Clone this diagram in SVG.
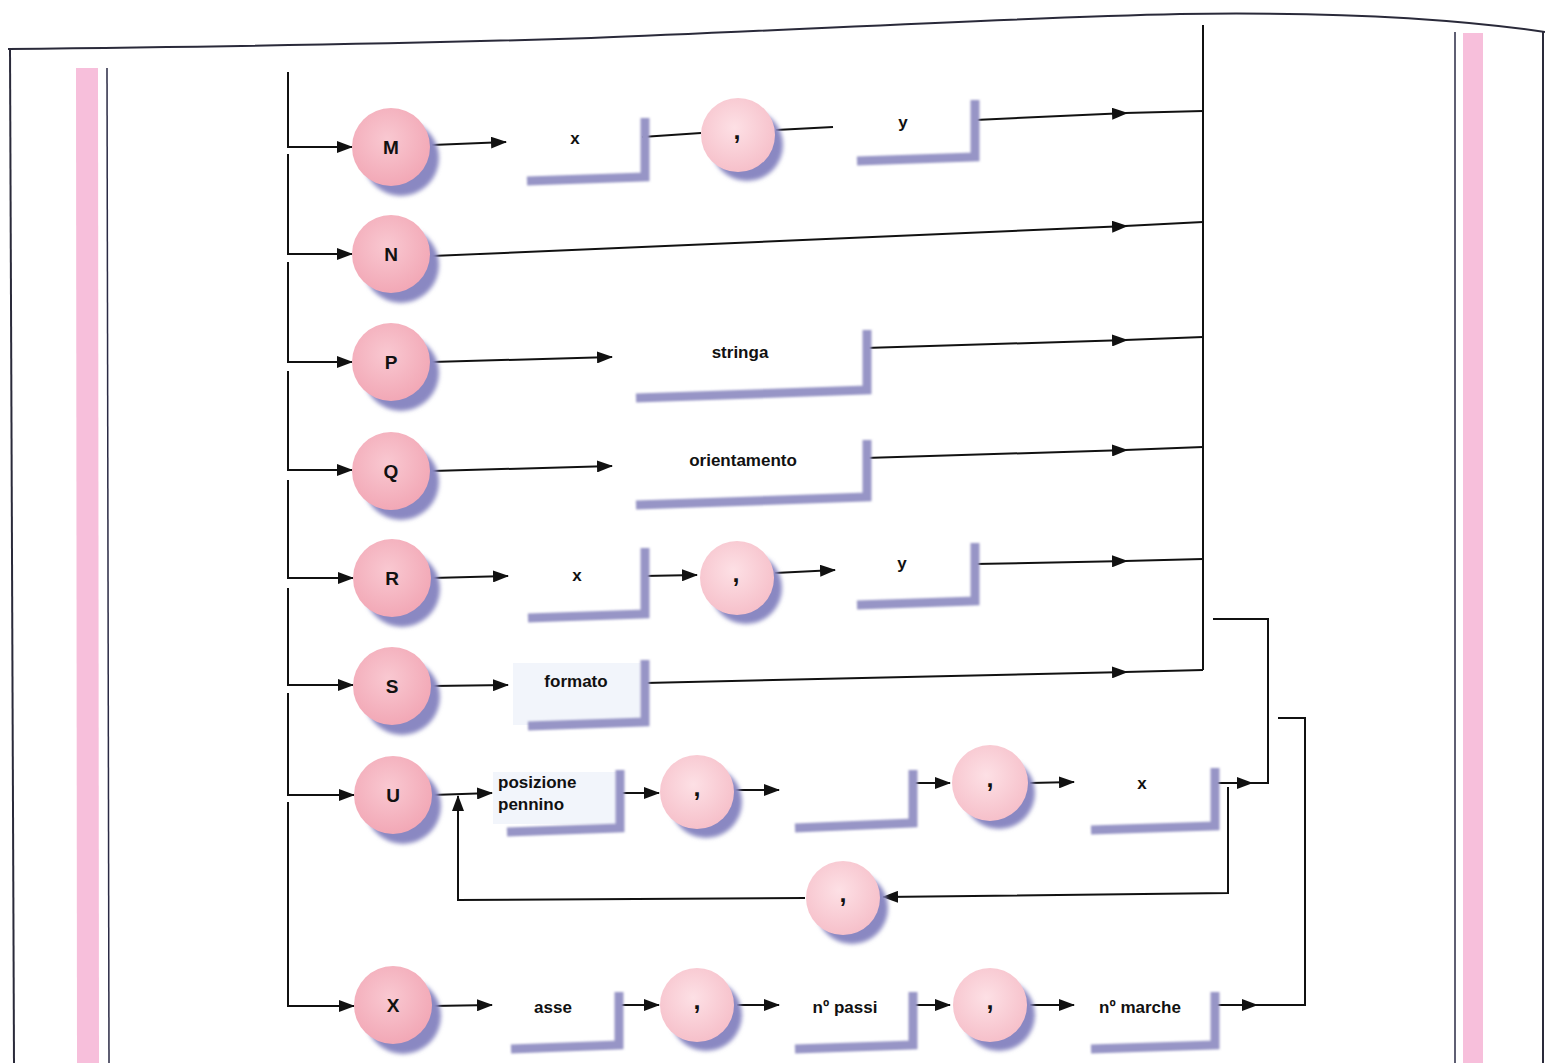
<svg xmlns="http://www.w3.org/2000/svg" width="1545" height="1063" viewBox="0 0 1545 1063">
<style>
.ln{stroke:#111;stroke-width:2;fill:none}
.ar{marker-end:url(#ah)}
.frame{stroke:#2a2a3a;stroke-width:2;fill:none}
.thin{stroke:#2a2a44;stroke-width:1.5;fill:none}
.strip{fill:#f7bfdb}
.csh{fill:#8a88c2;filter:url(#blur)}
.cl{fill:url(#pinkL)}
.cc{fill:url(#pinkC)}
.bsh{stroke:#9795c6;stroke-width:9;fill:none;filter:url(#blur1);stroke-linejoin:miter}
.t{font-family:"Liberation Sans",Arial,sans-serif;font-weight:bold;font-size:17px;fill:#111;text-anchor:middle}
.tn{font-family:"Liberation Sans",Arial,sans-serif;font-weight:bold;font-size:19px;fill:#111;text-anchor:middle}
.tl{font-family:"Liberation Sans",Arial,sans-serif;font-weight:bold;font-size:17px;fill:#111}
.cm{font-family:"Liberation Sans",Arial,sans-serif;font-weight:bold;font-size:25px;fill:#111;text-anchor:middle}
</style>
<defs>
<marker id="ah" markerUnits="userSpaceOnUse" markerWidth="16" markerHeight="12" refX="15" refY="6" orient="auto">
<path d="M0,0 L16,6 L0,12 z" fill="#111"/>
</marker>
<filter id="blur" x="-20%" y="-20%" width="140%" height="140%"><feGaussianBlur stdDeviation="2"/></filter>
<filter id="blur1" x="-20%" y="-50%" width="140%" height="200%"><feGaussianBlur stdDeviation="1.2"/></filter>
<radialGradient id="pinkL" cx="45%" cy="40%" r="60%"><stop offset="0" stop-color="#f9c8d1"/><stop offset="1" stop-color="#f2a8b6"/></radialGradient>
<radialGradient id="pinkC" cx="45%" cy="40%" r="60%"><stop offset="0" stop-color="#fde0e5"/><stop offset="1" stop-color="#f6c0ca"/></radialGradient>
</defs>

<g id="page">
<path class="frame" d="M8 49 C 200 47, 400 44, 591 38 C 800 30, 1000 18, 1180 14 C 1320 12, 1450 18, 1545 32"/>
<path class="frame" d="M10 49 L14 1063"/>
<path class="frame" d="M1543 31 L1543 1063"/>
<path class="strip" d="M76 68 L98 68 L99 1063 L77 1063 z"/>
<path class="strip" d="M1463 33 L1483 33 L1483 1063 L1463 1063 z"/>
<path class="thin" d="M107 68 L109 1063"/>
<path class="thin" d="M1455 32 L1455 1063"/>
</g>

<g id="connectors">
<path class="ln ar" d="M288 72 V147 H352"/>
<path class="ln ar" d="M288 154 V254 H352"/>
<path class="ln ar" d="M288 262 V362 H352"/>
<path class="ln ar" d="M288 371 V470 H352"/>
<path class="ln ar" d="M288 480 V578 H353"/>
<path class="ln ar" d="M288 588 V685 H353"/>
<path class="ln ar" d="M288 693 V795 H354"/>
<path class="ln ar" d="M288 802 V1006 H354"/>
<path class="ln" d="M1203 25 V670"/>
<path class="ln ar" d="M432 145 L506 142"/>
<path class="ln" d="M642 137 L701 133"/>
<path class="ln" d="M776 130 L833 127"/>
<path class="ln ar" d="M975 120 L1127 113"/>
<path class="ln" d="M1125 113 L1203 111"/>
<path class="ln ar" d="M432 256 L1127 226"/>
<path class="ln" d="M1125 226 L1203 222"/>
<path class="ln ar" d="M432 362 L612 357"/>
<path class="ln ar" d="M865 348 L1127 340"/>
<path class="ln" d="M1125 340 L1203 337"/>
<path class="ln ar" d="M432 471 L612 466"/>
<path class="ln ar" d="M865 458 L1127 450"/>
<path class="ln" d="M1125 450 L1203 447"/>
<path class="ln ar" d="M432 578 L508 576"/>
<path class="ln ar" d="M643 576 L697 575"/>
<path class="ln ar" d="M775 573 L835 570"/>
<path class="ln ar" d="M974 564 L1127 561"/>
<path class="ln" d="M1125 561 L1203 559"/>
<path class="ln ar" d="M432 686 L508 685"/>
<path class="ln ar" d="M645 683 L1127 672"/>
<path class="ln" d="M1125 672 L1203 670"/>
<path class="ln ar" d="M432 795 L492 793"/>
<path class="ln ar" d="M621 793 L659 793"/>
<path class="ln ar" d="M735 790 L779 790"/>
<path class="ln ar" d="M914 783 L950 783"/>
<path class="ln ar" d="M1030 783 L1074 782"/>
<path class="ln ar" d="M1215 783 L1252 783"/>
<path class="ln" d="M1250 783 H1268 V619 H1213"/>
<path class="ln ar" d="M1228 787 V893 L883 897"/>
<path class="ln ar" d="M805 898 L458 900 V796"/>
<path class="ln ar" d="M432 1006 L492 1005"/>
<path class="ln ar" d="M620 1005 L659 1005"/>
<path class="ln ar" d="M737 1005 L779 1005"/>
<path class="ln ar" d="M914 1005 L950 1005"/>
<path class="ln ar" d="M1030 1005 L1074 1005"/>
<path class="ln ar" d="M1215 1005 L1257 1005"/>
<path class="ln" d="M1255 1005 H1305 V718 H1278"/>
</g>

<g id="node-M"><circle class="csh" cx="401" cy="158" r="38"/><circle class="cl" cx="391" cy="147" r="39"/><text class="tn" x="391" y="154">M</text></g>
<g id="node-N"><circle class="csh" cx="401" cy="265" r="38"/><circle class="cl" cx="391" cy="254" r="39"/><text class="tn" x="391" y="261">N</text></g>
<g id="node-P"><circle class="csh" cx="401" cy="373" r="38"/><circle class="cl" cx="391" cy="362" r="39"/><text class="tn" x="391" y="369">P</text></g>
<g id="node-Q"><circle class="csh" cx="401" cy="482" r="38"/><circle class="cl" cx="391" cy="471" r="39"/><text class="tn" x="391" y="478">Q</text></g>
<g id="node-R"><circle class="csh" cx="402" cy="589" r="38"/><circle class="cl" cx="392" cy="578" r="39"/><text class="tn" x="392" y="585">R</text></g>
<g id="node-S"><circle class="csh" cx="402" cy="697" r="38"/><circle class="cl" cx="392" cy="686" r="39"/><text class="tn" x="392" y="693">S</text></g>
<g id="node-U"><circle class="csh" cx="403" cy="806" r="38"/><circle class="cl" cx="393" cy="795" r="39"/><text class="tn" x="393" y="802">U</text></g>
<g id="node-X"><circle class="csh" cx="403" cy="1016" r="38"/><circle class="cl" cx="393" cy="1005" r="39"/><text class="tn" x="393" y="1012">X</text></g>

<g id="node-comma-M"><circle class="csh" cx="747" cy="145" r="36"/><circle class="cc" cx="738" cy="135" r="37"/><text class="cm" x="737" y="139">,</text></g>
<g id="node-comma-R"><circle class="csh" cx="746" cy="588" r="36"/><circle class="cc" cx="737" cy="578" r="37"/><text class="cm" x="736" y="582">,</text></g>
<g id="node-comma-U1"><circle class="csh" cx="706" cy="802" r="36"/><circle class="cc" cx="697" cy="792" r="37"/><text class="cm" x="697" y="796">,</text></g>
<g id="node-comma-U2"><circle class="csh" cx="999" cy="793" r="36"/><circle class="cc" cx="990" cy="783" r="38"/><text class="cm" x="990" y="787">,</text></g>
<g id="node-comma-loop"><circle class="csh" cx="852" cy="908" r="36"/><circle class="cc" cx="843" cy="898" r="37"/><text class="cm" x="843" y="902">,</text></g>
<g id="node-comma-X1"><circle class="csh" cx="706" cy="1015" r="36"/><circle class="cc" cx="697" cy="1005" r="37"/><text class="cm" x="697" y="1009">,</text></g>
<g id="node-comma-X2"><circle class="csh" cx="999" cy="1015" r="36"/><circle class="cc" cx="990" cy="1005" r="37"/><text class="cm" x="990" y="1009">,</text></g>

<g id="box-M-x"><path class="bsh" d="M645 118 V177 L527 181"/><text class="t" x="575" y="144">x</text></g>
<g id="box-M-y"><path class="bsh" d="M975 100 V157 L857 161"/><text class="t" x="903" y="128">y</text></g>
<g id="box-P-stringa"><path class="bsh" d="M867 330 V390 L636 398"/><text class="t" x="740" y="358">stringa</text></g>
<g id="box-Q-orientamento"><path class="bsh" d="M867 440 V497 L636 505"/><text class="t" x="743" y="466">orientamento</text></g>
<g id="box-R-x"><path class="bsh" d="M645 548 V614 L528 618"/><text class="t" x="577" y="581">x</text></g>
<g id="box-R-y"><path class="bsh" d="M975 543 V601 L857 605"/><text class="t" x="902" y="569">y</text></g>
<g id="box-S-formato"><rect x="513" y="663" width="127" height="62" fill="#f2f5fb"/><path class="bsh" d="M645 660 V722 L528 726"/><text class="t" x="576" y="687">formato</text></g>
<g id="box-U-posizione"><rect x="493" y="772" width="123" height="52" fill="#f2f5fb"/><path class="bsh" d="M620 770 V828 L507 832"/><text class="tl" x="498" y="788">posizione</text><text class="tl" x="498" y="810">pennino</text></g>
<g id="box-U-empty"><path class="bsh" d="M913 770 V823 L795 828"/></g>
<g id="box-U-x"><path class="bsh" d="M1215 768 V826 L1091 830"/><text class="t" x="1142" y="789">x</text></g>
<g id="box-X-asse"><path class="bsh" d="M619 992 V1045 L511 1049"/><text class="t" x="553" y="1013">asse</text></g>
<g id="box-X-npassi"><path class="bsh" d="M913 992 V1045 L795 1049"/><text class="t" x="845" y="1013">nº passi</text></g>
<g id="box-X-nmarche"><path class="bsh" d="M1215 992 V1045 L1091 1049"/><text class="t" x="1140" y="1013">nº marche</text></g>
</svg>
